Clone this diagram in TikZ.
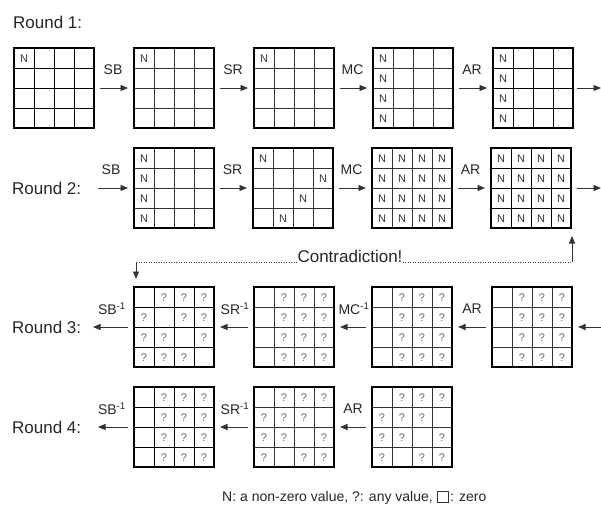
\documentclass[tikz,border=0pt]{standalone}
\usepackage{fontspec}
\setmainfont{Liberation Sans}
\usetikzlibrary{arrows.meta,calc,positioning}
\newcommand\mkgrid[4]{% name, x, y, inner style
  \foreach \i in {1,2,3}{
    \draw[#4] (#2+\i*20,#3) -- (#2+\i*20,#3+80);
    \draw[#4] (#2,#3+\i*20) -- (#2+80,#3+\i*20);
  }
  \node[gridbox] (#1) at (#2+40,#3+40) {};
}
\newcommand\putcells[3]{% name, style, list r/c/t
  \foreach \r/\c/\t in {#3}{
    \node[#2] (#1-\r-\c) at ($(#1.north west)+(\c*20+10,\r*20+10.5)$) {\t};
  }
}
\begin{document}
\begin{tikzpicture}[x=1pt,y=-1pt,
  gridbox/.style={draw=black, line width=1.3pt, minimum size=80pt, inner sep=0pt, outer sep=0pt},
  innerline/.style={draw=black!80, line width=0.7pt},
  innerthick/.style={draw=black, line width=0.95pt},
  cellN/.style={font=\fontsize{11}{11}\selectfont, text=black!80, inner sep=0pt},
  cellQ/.style={font=\fontsize{11}{11}\selectfont, text=black!60, inner sep=0pt},
  flow/.style={draw=black!80, line width=0.8pt, -{Triangle[length=7.5pt,width=6pt]}},
  oplabel/.style={font=\fontsize{14}{14}\selectfont, text=black!85, inner sep=0pt},
  roundlabel/.style={font=\fontsize{17}{17}\selectfont, text=black!85, inner sep=0pt, anchor=west},
  legend/.style={font=\fontsize{14}{14}\selectfont, text=black!85, inner sep=0pt},
  dots/.style={draw=black!75, line width=0.9pt, dash pattern=on 0.9pt off 1.6pt},
]
\useasboundingbox (0,0) rectangle (601,504);

% ---------------- Round 1 ----------------
\node[roundlabel] (r1) at (13,22) {Round 1:};
\mkgrid{g11}{14}{48}{innerthick}
\mkgrid{g12}{134}{48}{innerline}
\mkgrid{g13}{254}{48}{innerline}
\mkgrid{g14}{373}{48}{innerline}
\mkgrid{g15}{493}{48}{innerthick}
\putcells{g11}{cellN}{0/0/N}
\putcells{g12}{cellN}{0/0/N}
\putcells{g13}{cellN}{0/0/N}
\putcells{g14}{cellN}{0/0/N,1/0/N,2/0/N,3/0/N}
\putcells{g15}{cellN}{0/0/N,1/0/N,2/0/N,3/0/N}
\coordinate (e1) at (601,88);
\draw[flow, shorten <=6pt, shorten >=6pt] (g11.east) -- (g12.west);
\draw[flow, shorten <=6pt, shorten >=6pt] (g12.east) -- (g13.west);
\draw[flow, shorten <=6pt, shorten >=6pt] (g13.east) -- (g14.west);
\draw[flow, shorten <=6pt, shorten >=6pt] (g14.east) -- (g15.west);
\draw[flow, shorten <=4pt] (g15.east) -- (e1);
\node[oplabel] (l11) at ($(g11.east)!0.5!(g12.west)+(-1,-18)$) {SB};
\node[oplabel] (l12) at ($(g12.east)!0.5!(g13.west)+(-1,-18)$) {SR};
\node[oplabel] (l13) at ($(g13.east)!0.5!(g14.west)+(-1,-18)$) {MC};
\node[oplabel] (l14) at ($(g14.east)!0.5!(g15.west)+(-1,-18)$) {AR};

% ---------------- Round 2 ----------------
\node[roundlabel] (r2) at (12,188) {Round 2:};
\mkgrid{g22}{134}{148}{innerline}
\mkgrid{g23}{253}{148}{innerline}
\mkgrid{g24}{372}{148}{innerline}
\mkgrid{g25}{491}{148}{innerthick}
\putcells{g22}{cellN}{0/0/N,1/0/N,2/0/N,3/0/N}
\putcells{g23}{cellN}{0/0/N,1/3/N,2/2/N,3/1/N}
\putcells{g24}{cellN}{0/0/N,0/1/N,0/2/N,0/3/N,1/0/N,1/1/N,1/2/N,1/3/N,2/0/N,2/1/N,2/2/N,2/3/N,3/0/N,3/1/N,3/2/N,3/3/N}
\putcells{g25}{cellN}{0/0/N,0/1/N,0/2/N,0/3/N,1/0/N,1/1/N,1/2/N,1/3/N,2/0/N,2/1/N,2/2/N,2/3/N,3/0/N,3/1/N,3/2/N,3/3/N}
\coordinate (s2) at (98,188);
\coordinate (e2) at (601,188);
\draw[flow, shorten >=6pt] (s2) -- (g22.west);
\draw[flow, shorten <=6pt, shorten >=6pt] (g22.east) -- (g23.west);
\draw[flow, shorten <=6pt, shorten >=6pt] (g23.east) -- (g24.west);
\draw[flow, shorten <=6pt, shorten >=6pt] (g24.east) -- (g25.west);
\draw[flow, shorten <=6pt] (g25.east) -- (e2);
\node[oplabel] (l21) at (111,170) {SB};
\node[oplabel] (l22) at ($(g22.east)!0.5!(g23.west)+(-1,-18)$) {SR};
\node[oplabel] (l23) at ($(g23.east)!0.5!(g24.west)+(-1,-18)$) {MC};
\node[oplabel] (l24) at ($(g24.east)!0.5!(g25.west)+(-1,-18)$) {AR};

% ---------------- Contradiction ----------------
\coordinate (cl) at (136,262);
\coordinate (cr) at (572,262);
\node[oplabel, anchor=base, font=\fontsize{17}{17}\selectfont] (ct) at (350,262) {Contradiction!};
\draw[dots] (cl) -- (ct.base west);
\draw[dots] (ct.base east) -- (cr);

% ---------------- Round 3 ----------------
\node[roundlabel] (r3) at (12,327) {Round 3:};
\mkgrid{g32}{134}{287}{innerthick}
\mkgrid{g33}{254}{287}{innerline}
\mkgrid{g34}{372}{287}{innerline}
\mkgrid{g35}{492}{287}{innerline}
\draw[flow, shorten >=8pt] (cl) -- (cl |- g32.north);
\draw[flow, shorten >=8pt] (cr) -- (cr |- g25.south);
\putcells{g32}{cellQ}{0/1/?,0/2/?,0/3/?,1/0/?,1/2/?,1/3/?,2/0/?,2/1/?,2/3/?,3/0/?,3/1/?,3/2/?}
\putcells{g33}{cellQ}{0/1/?,0/2/?,0/3/?,1/1/?,1/2/?,1/3/?,2/1/?,2/2/?,2/3/?,3/1/?,3/2/?,3/3/?}
\putcells{g34}{cellQ}{0/1/?,0/2/?,0/3/?,1/1/?,1/2/?,1/3/?,2/1/?,2/2/?,2/3/?,3/1/?,3/2/?,3/3/?}
\putcells{g35}{cellQ}{0/1/?,0/2/?,0/3/?,1/1/?,1/2/?,1/3/?,2/1/?,2/2/?,2/3/?,3/1/?,3/2/?,3/3/?}
\coordinate (s3) at (601,327);
\coordinate (t3) at (93,327);
\draw[flow, shorten >=6pt] (s3) -- (g35.east);
\draw[flow, shorten <=6pt, shorten >=6pt] (g35.west) -- (g34.east);
\draw[flow, shorten <=6pt, shorten >=6pt] (g34.west) -- (g33.east);
\draw[flow, shorten <=6pt, shorten >=6pt] (g33.west) -- (g32.east);
\draw[flow, shorten <=6pt] (g32.west) -- (t3);
\node[oplabel] (l31) at (112,309) {SB\textsuperscript{-1}};
\node[oplabel] (l32) at ($(g33.west)!0.5!(g32.east)+(1,-18)$) {SR\textsuperscript{-1}};
\node[oplabel] (l33) at ($(g34.west)!0.5!(g33.east)+(1,-18)$) {MC\textsuperscript{-1}};
\node[oplabel] (l34) at ($(g35.west)!0.5!(g34.east)+(0,-18)$) {AR};

% ---------------- Round 4 ----------------
\node[roundlabel] (r4) at (12,427) {Round 4:};
\mkgrid{g42}{134}{387}{innerthick}
\mkgrid{g43}{254}{387}{innerline}
\mkgrid{g44}{372}{387}{innerline}
\putcells{g42}{cellQ}{0/1/?,0/2/?,0/3/?,1/1/?,1/2/?,1/3/?,2/1/?,2/2/?,2/3/?,3/1/?,3/2/?,3/3/?}
\putcells{g43}{cellQ}{0/1/?,0/2/?,0/3/?,1/0/?,1/1/?,1/2/?,2/0/?,2/1/?,2/3/?,3/0/?,3/2/?,3/3/?}
\putcells{g44}{cellQ}{0/1/?,0/2/?,0/3/?,1/0/?,1/1/?,1/2/?,2/0/?,2/1/?,2/3/?,3/0/?,3/2/?,3/3/?}
\coordinate (t4) at (98,427);
\draw[flow, shorten <=6pt, shorten >=6pt] (g44.west) -- (g43.east);
\draw[flow, shorten <=6pt, shorten >=6pt] (g43.west) -- (g42.east);
\draw[flow, shorten <=6pt] (g42.west) -- (t4);
\node[oplabel] (l41) at (112,409) {SB\textsuperscript{-1}};
\node[oplabel] (l42) at ($(g43.west)!0.5!(g42.east)+(1,-18)$) {SR\textsuperscript{-1}};
\node[oplabel] (l43) at ($(g44.west)!0.5!(g43.east)+(0,-18)$) {AR};

% ---------------- Legend ----------------
\node[legend, anchor=base west] (leg1) at (222,501) {N: a non-zero value, ?: any value,};
\node[draw=black!80, line width=0.8pt, minimum size=11pt, inner sep=0pt, anchor=south west] (legbox) at ($(leg1.base east)+(4,1.5)$) {};
\node[legend, anchor=base west] (leg2) at ($(legbox.south east)+(1,-1.5)$) {: zero};
\end{tikzpicture}
\end{document}
